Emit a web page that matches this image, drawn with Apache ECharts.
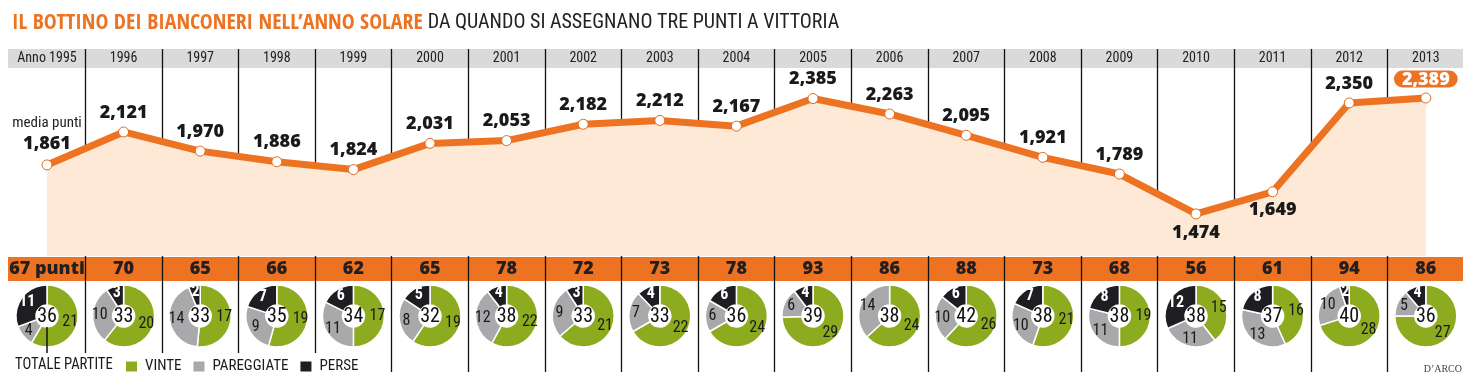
<!DOCTYPE html>
<html><head><meta charset="utf-8">
<script src="https://cdn.jsdelivr.net/npm/echarts@6/dist/echarts.min.js"></script>
<style>html,body{margin:0;padding:0;background:#fff}#c{width:1472px;height:382px}</style>
</head><body><div id="c"></div><script>
// ---- data ----
const years = ['Anno 1995','1996','1997','1998','1999','2000','2001','2002','2003','2004','2005','2006','2007','2008','2009','2010','2011','2012','2013'];
const mediaPunti = [1.861,2.121,1.970,1.886,1.824,2.031,2.053,2.182,2.212,2.167,2.385,2.263,2.095,1.921,1.789,1.474,1.649,2.350,2.389];
const punti = [67,70,65,66,62,65,78,72,73,78,93,86,88,73,68,56,61,94,86];
const vinte = [21,20,17,19,17,19,22,21,22,24,29,24,26,21,19,15,16,28,27];
const pareggiate = [4,10,14,9,11,8,12,9,7,6,6,14,10,10,11,11,13,10,5];
const perse = [11,3,2,7,6,5,4,3,4,6,4,0,6,7,8,12,8,2,4];
const totali = [36,33,33,35,34,32,38,33,33,36,39,38,42,38,38,38,37,40,36];
const legendNames = ['VINTE','PAREGGIATE','PERSE'];
const titleBold = 'IL BOTTINO DEI BIANCONERI NELL’ANNO SOLARE';
const titleRest = 'DA QUANDO SI ASSEGNANO TRE PUNTI A VITTORIA';

// ---- style ----
const FB = "'Open Sans Condensed','Roboto Condensed',sans-serif";   // heavy condensed (title)
const FR = "'Roboto Condensed','Open Sans Condensed',sans-serif";   // regular condensed
const FN = "'Open Sans',sans-serif";                                // heavy numbers
const ORANGE = '#ed7322', PEACH = '#fde9d5', GREEN = '#8dab1e', GRAY = '#a9a9ab', BLACK = '#1d1d22', HEAD = '#dadada';
const L = 8.7, W = 1455.4, TOP = 49;
const labelBelow = new Set([15, 16]);
const highlight = 18;
const fmt = v => v.toFixed(3).replace('.', ',');

const chart = echarts.init(document.getElementById('c'));

const lineData = mediaPunti.map((v, i) => {
  const d = { value: v };
  if (labelBelow.has(i)) d.label = { position: 'bottom', distance: 4 };
  if (i === 0) d.label = { formatter: '{m|media punti}\n{v|' + fmt(v) + '}' };
  if (i === highlight) d.label = { color: '#fff', backgroundColor: ORANGE, borderRadius: 10, padding: [0, 8, -1, 8] };
  return d;
});

chart.setOption({
  animation: false,
  title: {
    left: 7, top: 7,
    text: '{a|' + titleBold + '} {b|' + titleRest + '}',
    textStyle: { rich: {
      a: { fontFamily: FB, fontWeight: 'bold', fontSize: 21.8, color: ORANGE },
      b: { fontFamily: FR, fontWeight: 'normal', fontSize: 20, color: '#222' }
    } }
  },
  legend: {
    data: legendNames, left: 124, top: 359, padding: 0, icon: 'rect', itemWidth: 13, itemHeight: 12, itemGap: 10,
    selectedMode: false, textStyle: { fontFamily: FR, fontSize: 15, color: '#1a1a1a', padding: [0, 0, 0, 2] }
  },
  grid: [
    { left: L, width: W, top: TOP, height: 207 },
    { left: L, width: W, top: TOP, height: 323 }
  ],
  xAxis: [
    { gridIndex: 0, type: 'category', data: years, position: 'top', boundaryGap: true,
      axisLine: { show: false }, axisTick: { show: false }, splitLine: { show: false },
      axisLabel: { inside: true, margin: 9, verticalAlign: 'middle', fontFamily: FR, fontSize: 14, color: '#222', interval: 0 } },
    { gridIndex: 0, type: 'category', data: years, position: 'bottom', boundaryGap: true,
      axisLine: { show: false }, axisTick: { show: false }, splitLine: { show: false },
      axisLabel: { margin: 13, verticalAlign: 'middle', fontFamily: FN, fontWeight: 800, fontSize: 18, color: '#231f20', interval: 0,
        formatter: (v, i) => i === 0 ? punti[i] + ' punti' : String(punti[i]) } },
    { gridIndex: 1, type: 'category', data: years, boundaryGap: true,
      axisLine: { show: false }, axisTick: { show: false }, axisLabel: { show: false },
      splitLine: { show: true, showMinLine: false, showMaxLine: false, interval: 0, lineStyle: { color: '#111', width: 1.3 } } }
  ],
  yAxis: [
    { gridIndex: 0, type: 'value', min: 1.142, max: 2.776, show: false },
    { gridIndex: 1, type: 'value', show: false }
  ],
  series: [{
    type: 'line', xAxisIndex: 0, yAxisIndex: 0, data: lineData, z: 3,
    lineStyle: { color: ORANGE, width: 7 },
    symbol: 'circle', symbolSize: 10,
    itemStyle: { color: '#fff', borderColor: '#e06a1c', borderWidth: 1 },
    areaStyle: { color: PEACH, opacity: 1, origin: 'start' },
    label: { show: true, position: 'top', distance: 5, formatter: p => fmt(p.value),
      fontFamily: FN, fontWeight: 800, fontSize: 18, color: '#1a1a1a',
      rich: { m: { fontFamily: FR, fontWeight: 'normal', fontSize: 15, color: '#222', lineHeight: 19 },
              v: { fontFamily: FN, fontWeight: 800, fontSize: 18, color: '#1a1a1a', lineHeight: 22 } } }
  }]
});

const CY = 316;
const centers = years.map((y, i) => chart.convertToPixel({ xAxisIndex: 0 }, i));
const pies = [];
const totalTexts = [];
centers.forEach((cx, i) => {
  const items = [
    { name: legendNames[0], value: vinte[i], itemStyle: { color: GREEN } },
    { name: legendNames[1], value: pareggiate[i], itemStyle: { color: GRAY } },
    { name: legendNames[2], value: perse[i], itemStyle: { color: BLACK }, label: { color: '#fff', fontWeight: 'bold' } }
  ].filter(d => d.value > 0);
  pies.push({
    type: 'pie', center: [cx, CY], radius: [11, 31], startAngle: 90, clockwise: true, silent: true,
    itemStyle: { borderColor: '#fff', borderWidth: 1.5 },
    label: { show: true, position: 'inside', formatter: '{c}', fontFamily: FR, fontSize: 16, color: '#1a1a1a' },
    labelLine: { show: false }, data: items
  });
  totalTexts.push({ type: 'text', z: 10, x: cx, y: CY + 1,
    style: { text: String(totali[i]), font: '20px ' + FR, fill: '#111', align: 'center', verticalAlign: 'middle' } });
});

const lineSeries = chart.getOption().series;
chart.setOption({
  series: lineSeries.concat(pies),
  graphic: { elements: [
    { type: 'rect', z: -1, shape: { x: 8, y: TOP, width: 1455, height: 19 }, style: { fill: HEAD } },
    { type: 'rect', z: -1, shape: { x: 8, y: 257, width: 1455, height: 24 }, style: { fill: ORANGE } },
    { type: 'rect', z: 1, shape: { x: 0, y: 353, width: 352, height: 29 }, style: { fill: '#fff' } },
    { type: 'line', z: 5, shape: { x1: centers[0], y1: CY + 11, x2: centers[0], y2: 353 }, style: { stroke: '#111', lineWidth: 1.5 } },
    { type: 'text', z: 5, x: 15, y: 365, scaleX: 0.86, style: { text: 'TOTALE PARTITE', font: '17px ' + FR, fill: '#1a1a1a', verticalAlign: 'middle' } },
    { type: 'text', z: 5, x: 1462, y: 369, style: { text: 'D’ARCO', font: '10px "Liberation Serif", serif', fill: '#444', align: 'right', verticalAlign: 'middle' } }
  ].concat(totalTexts) }
});
</script></body></html>
